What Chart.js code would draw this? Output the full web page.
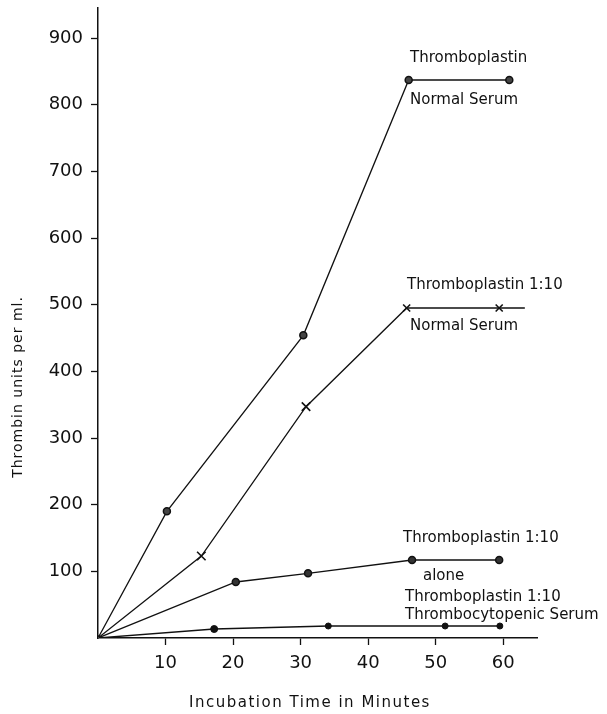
<!DOCTYPE html>
<html>
<head>
<meta charset="utf-8">
<script src="https://cdn.jsdelivr.net/npm/chart.js@4.4.0/dist/chart.umd.min.js"></script>
<style>
  html, body { margin: 0; padding: 0; background: #fff; }
  #wrap { width: 607px; height: 714px; }
</style>
</head>
<body>
<div id="wrap"><canvas id="chart" width="607" height="714"></canvas></div>
<script>
// Data (minutes, thrombin units per ml)
const normalX = [0, 10.2, 30.4, 46, 60.9];
const normalY = [0, 190, 454, 837, 837];

const dilutedX = [0, 15.3, 30.8, 45.7, 59.4, 63.2];
const dilutedY = [0, 123, 347, 495, 495, 495];

const aloneX = [0, 20.4, 31.1, 46.5, 59.4];
const aloneY = [0, 84, 97, 117, 117];

const thrombocytopenicX = [0, 17.2, 34.1, 51.4, 59.5];
const thrombocytopenicY = [0, 13.5, 18, 18, 18];

const xTicks = [10, 20, 30, 40, 50, 60];
const yTicks = [100, 200, 300, 400, 500, 600, 700, 800, 900];

const seriesLabels = [
  'Thromboplastin', 'Normal Serum',
  'Thromboplastin 1:10', 'Normal Serum',
  'Thromboplastin 1:10', 'alone',
  'Thromboplastin 1:10', 'Thrombocytopenic Serum'
];

const xTitle = 'Incubation Time in Minutes';
const yTitle = 'Thrombin units per ml.';

const toPoints = (xs, ys) => xs.map((x, i) => ({ x: x, y: ys[i] }));

const FONT = "'DejaVu Sans', sans-serif";

// Free text labels next to the curves and the axis titles
const textPlugin = {
  id: 'textPlugin',
  afterDraw(chart) {
    const ctx = chart.ctx;
    ctx.save();
    ctx.fillStyle = '#111';
    ctx.textBaseline = 'middle';
    ctx.textAlign = 'left';
    ctx.font = '15px ' + FONT;
    const spots = [
      [410, 58], [410, 100],
      [407, 285], [410, 326],
      [403, 538], [423, 576],
      [405, 597], [405, 615]
    ];
    seriesLabels.forEach((t, i) => {
      ctx.fillText(t, spots[i][0], spots[i][1]);
    });

    // x axis title
    ctx.font = '15px ' + FONT;
    ctx.letterSpacing = '1.5px';
    ctx.textAlign = 'center';
    ctx.fillText(xTitle, 310, 703);

    // y axis title
    ctx.translate(18, 387);
    ctx.rotate(-Math.PI / 2);
    ctx.font = '14px ' + FONT;
    ctx.letterSpacing = '1px';
    ctx.fillText(yTitle, 0, 0);
    ctx.restore();
  }
};

const lineStyle = {
  borderColor: '#111',
  borderWidth: 1.3,
  pointBorderColor: '#111',
  tension: 0,
  fill: false
};

function noScalePadding(scale) {
  scale.paddingTop = 0;
  scale.paddingBottom = 0;
  scale.paddingLeft = 0;
  scale.paddingRight = 0;
}

new Chart(document.getElementById('chart').getContext('2d'), {
  type: 'scatter',
  data: {
    datasets: [
      Object.assign({
        label: 'Thromboplastin / Normal Serum',
        data: toPoints(normalX, normalY),
        showLine: true,
        pointStyle: 'circle',
        pointRadius: [2, 3.5, 3.5, 3.5, 3.5],
        pointBackgroundColor: '#444',
        pointBorderWidth: 1.5
      }, lineStyle),
      Object.assign({
        label: 'Thromboplastin 1:10 / Normal Serum',
        data: toPoints(dilutedX, dilutedY),
        showLine: true,
        pointStyle: 'crossRot',
        pointRadius: [0, 6, 6, 5, 5, 0],
        pointBorderWidth: 1.6
      }, lineStyle),
      Object.assign({
        label: 'Thromboplastin 1:10 alone',
        data: toPoints(aloneX, aloneY),
        showLine: true,
        pointStyle: 'circle',
        pointRadius: [0, 3.5, 3.5, 3.5, 3.5],
        pointBackgroundColor: '#333',
        pointBorderWidth: 1.5
      }, lineStyle),
      Object.assign({
        label: 'Thromboplastin 1:10 / Thrombocytopenic Serum',
        data: toPoints(thrombocytopenicX, thrombocytopenicY),
        showLine: true,
        pointStyle: 'circle',
        pointRadius: [0, 3.5, 3, 3, 3],
        pointBackgroundColor: '#111',
        pointBorderWidth: 1
      }, lineStyle)
    ]
  },
  options: {
    responsive: false,
    animation: false,
    layout: {
      padding: { left: 0, right: 70, top: 8, bottom: 0 }
    },
    plugins: {
      legend: { display: false },
      tooltip: { enabled: false }
    },
    scales: {
      x: {
        type: 'linear',
        min: 0,
        max: 65,
        afterFit(scale) { scale.height = 76; noScalePadding(scale); },
        afterBuildTicks(scale) { scale.ticks = xTicks.map(v => ({ value: v })); },
        border: { display: true, color: '#111', width: 1.5 },
        grid: {
          drawOnChartArea: false,
          drawTicks: true,
          tickLength: 7,
          tickWidth: 1.3,
          color: '#111'
        },
        ticks: {
          color: '#111',
          padding: 8,
          font: { family: FONT, size: 18 },
          maxRotation: 0
        }
      },
      y: {
        type: 'linear',
        min: 0,
        max: 945,
        afterFit(scale) { scale.width = 98; noScalePadding(scale); },
        afterBuildTicks(scale) { scale.ticks = yTicks.map(v => ({ value: v })); },
        border: { display: true, color: '#111', width: 1.5 },
        grid: {
          drawOnChartArea: false,
          drawTicks: true,
          tickLength: 7,
          tickWidth: 1.3,
          color: '#111'
        },
        ticks: {
          color: '#111',
          padding: 8,
          font: { family: FONT, size: 18 }
        }
      }
    }
  },
  plugins: [textPlugin]
});
</script>
</body>
</html>
